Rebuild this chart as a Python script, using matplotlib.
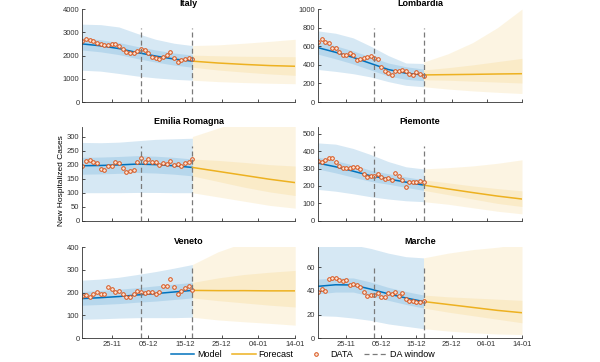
#!/usr/bin/env python3
"""Hospitalized cases per region: model fit, DA window and forecast."""

import matplotlib

matplotlib.use("Agg")
import matplotlib.dates as mdates
import matplotlib.pyplot as plt
import pandas as pd
from matplotlib.lines import Line2D

plt.rcParams.update({
    "font.family": ["Liberation Sans", "DejaVu Sans"],
    "font.size": 6,
    "axes.linewidth": 0.6,
    "xtick.direction": "in",
    "ytick.direction": "in",
    "xtick.major.size": 2.5,
    "ytick.major.size": 2.5,
    "xtick.major.width": 0.6,
    "ytick.major.width": 0.6,
    "xtick.labelsize": 5.5,
    "ytick.labelsize": 5.5,
})

# daily observations 17-11 .. 17-12
data_dates = pd.date_range("2020-11-17", "2020-12-17", freq="D")
# model nodes every 5 days inside the DA window, forecast nodes weekly
model_dates = pd.date_range("2020-11-17", "2020-12-17", freq="5D")
fc_dates = pd.date_range("2020-12-17", "2021-01-14", freq="7D")
da_start = pd.Timestamp("2020-12-03")
da_end = pd.Timestamp("2020-12-17")
x_ticks = pd.to_datetime(["2020-11-25", "2020-12-05", "2020-12-15",
                          "2020-12-25", "2021-01-04", "2021-01-14"])

regions = ["Italy", "Lombardia", "Emilia Romagna", "Piemonte", "Veneto", "Marche"]
y_max = [4000, 1000, 335, 540, 400, 77]
y_step = [1000, 200, 50, 100, 100, 20]

italy_data = [2643, 2700, 2657, 2628, 2527, 2484, 2455, 2440, 2484, 2513, 2412,
              2267, 2137, 2123, 2094, 2209, 2267, 2238, 2094, 1921, 1877, 1863,
              1949, 2007, 2137, 1906, 1718, 1791, 1848, 1877, 1848]
italy_mean = [2500, 2420, 2300, 2130, 1980, 1850, 1760]
italy_lo = [1370, 1330, 1230, 1120, 1040, 980, 940]
italy_hi = [3350, 3330, 3230, 2950, 2700, 2530, 2430]
italy_ilo = [2240, 2160, 2040, 1870, 1720, 1590, 1500]
italy_ihi = [2760, 2680, 2560, 2390, 2240, 2110, 2020]
italy_fc = [1760, 1680, 1620, 1570, 1540]
italy_fc_lo = [940, 880, 840, 810, 790]
italy_fc_hi = [2430, 2460, 2530, 2610, 2700]
italy_fc_ilo = [1500, 1380, 1290, 1210, 1150]
italy_fc_ihi = [2020, 1990, 1970, 1960, 1950]

lomb_data = [650, 675, 650, 632, 585, 578, 542, 505, 505, 523, 505, 451, 458,
             469, 480, 498, 469, 466, 372, 332, 314, 289, 332, 332, 343, 339,
             300, 296, 321, 307, 278]
lomb_mean = [585, 535, 480, 415, 350, 310, 292]
lomb_lo = [350, 330, 305, 270, 220, 180, 165]
lomb_hi = [765, 740, 690, 600, 500, 420, 415]
lomb_ilo = [515, 465, 410, 345, 280, 245, 230]
lomb_ihi = [655, 605, 550, 485, 420, 380, 355]
lomb_fc = [292, 295, 298, 302, 305]
lomb_fc_lo = [165, 140, 120, 105, 92]
lomb_fc_hi = [430, 520, 640, 800, 1000]
lomb_fc_ilo = [240, 235, 225, 215, 205]
lomb_fc_ihi = [345, 370, 400, 435, 470]

emil_data = [196, 214, 217, 208, 205, 185, 181, 195, 196, 211, 205, 189, 175,
             179, 181, 211, 223, 211, 219, 211, 208, 199, 205, 202, 212, 199,
             201, 196, 207, 208, 221]
emil_mean = [196, 197, 199, 202, 200, 196, 190]
emil_lo = [100, 100, 100, 101, 101, 100, 100]
emil_hi = [279, 278, 280, 285, 290, 292, 294]
emil_ilo = [166, 167, 169, 172, 170, 166, 160]
emil_ihi = [226, 227, 229, 232, 230, 226, 220]
emil_fc = [190, 176, 162, 148, 136]
emil_fc_lo = [100, 85, 70, 55, 45]
emil_fc_hi = [300, 330, 360, 380, 400]
emil_fc_ilo = [160, 140, 120, 103, 90]
emil_fc_ihi = [220, 215, 208, 200, 195]

piem_data = [344, 340, 350, 360, 360, 335, 317, 305, 302, 305, 311, 311, 298,
             267, 253, 259, 259, 267, 249, 241, 247, 237, 272, 259, 237, 195,
             220, 220, 224, 230, 220]
piem_mean = [331, 310, 285, 258, 240, 222, 205]
piem_lo = [180, 170, 155, 138, 125, 115, 110]
piem_hi = [447, 440, 415, 380, 340, 310, 298]
piem_ilo = [297, 275, 250, 226, 210, 192, 175]
piem_ihi = [365, 345, 320, 290, 270, 252, 235]
piem_fc = [205, 183, 162, 142, 125]
piem_fc_lo = [110, 95, 75, 55, 40]
piem_fc_hi = [298, 305, 315, 330, 350]
piem_fc_ilo = [175, 150, 125, 100, 82]
piem_fc_ihi = [235, 218, 200, 185, 172]

vene_data = [186, 189, 182, 196, 201, 193, 196, 226, 214, 201, 208, 196, 182,
             182, 193, 208, 204, 199, 204, 204, 193, 204, 229, 230, 260, 226,
             196, 208, 221, 230, 211]
vene_mean = [174, 178, 183, 190, 196, 203, 210]
vene_lo = [83, 85, 88, 90, 90, 90, 92]
vene_hi = [255, 260, 268, 280, 293, 308, 324]
vene_ilo = [145, 148, 152, 158, 163, 170, 177]
vene_ihi = [205, 210, 215, 222, 230, 238, 245]
vene_fc = [210, 209, 209, 208, 208]
vene_fc_lo = [92, 80, 72, 65, 57]
vene_fc_hi = [324, 380, 420, 450, 480]
vene_fc_ilo = [177, 165, 155, 145, 137]
vene_fc_ihi = [245, 265, 280, 290, 298]

marc_data = [38.9, 41.7, 39.7, 50.1, 51.0, 51.0, 49.3, 48.2, 49.3, 45.4, 45.9,
             45.4, 43.1, 38.9, 35.5, 36.6, 36.6, 38.0, 34.6, 34.6, 38.0, 37.5,
             38.9, 36.1, 38.0, 33.2, 31.8, 31.8, 30.4, 31.0, 31.3]
marc_mean = [43.9, 45.2, 45.0, 41.5, 37.5, 34.0, 31.0]
marc_lo = [19, 18.5, 17, 15, 12, 10, 8]
marc_hi = [80, 80, 79, 76, 72, 69, 68]
marc_ilo = [37.5, 39, 39, 35.5, 32, 28.5, 25.5]
marc_ihi = [50, 51, 51, 47.5, 43, 39.5, 36.5]
marc_fc = [31.0, 28.5, 26.0, 23.5, 21.5]
marc_fc_lo = [8, 6, 4.5, 3.5, 3]
marc_fc_hi = [68, 72, 75, 77, 80]
marc_fc_ilo = [25.5, 22, 19, 16, 13]
marc_fc_ihi = [36.5, 35, 34, 33, 32]

series = [
    (italy_data, italy_mean, italy_lo, italy_hi, italy_ilo, italy_ihi,
     italy_fc, italy_fc_lo, italy_fc_hi, italy_fc_ilo, italy_fc_ihi),
    (lomb_data, lomb_mean, lomb_lo, lomb_hi, lomb_ilo, lomb_ihi,
     lomb_fc, lomb_fc_lo, lomb_fc_hi, lomb_fc_ilo, lomb_fc_ihi),
    (emil_data, emil_mean, emil_lo, emil_hi, emil_ilo, emil_ihi,
     emil_fc, emil_fc_lo, emil_fc_hi, emil_fc_ilo, emil_fc_ihi),
    (piem_data, piem_mean, piem_lo, piem_hi, piem_ilo, piem_ihi,
     piem_fc, piem_fc_lo, piem_fc_hi, piem_fc_ilo, piem_fc_ihi),
    (vene_data, vene_mean, vene_lo, vene_hi, vene_ilo, vene_ihi,
     vene_fc, vene_fc_lo, vene_fc_hi, vene_fc_ilo, vene_fc_ihi),
    (marc_data, marc_mean, marc_lo, marc_hi, marc_ilo, marc_ihi,
     marc_fc, marc_fc_lo, marc_fc_hi, marc_fc_ilo, marc_fc_ihi),
]

BLUE = "#0072BD"
ORANGE = "#EDB120"
RED = "#D95319"
GREY = "#7a7a7a"
MFC = "#fbe6d8"

# axes boxes [left, bottom, width, height] in figure fraction
cols = [(0.137, 0.355), (0.530, 0.340)]
rows = [(0.718, 0.257), (0.390, 0.260), (0.066, 0.251)]


def draw_panel(ax, name, s, ymax, ystep, bottom_row):
    (obs, mean, lo, hi, ilo, ihi, fc, fc_lo, fc_hi, fc_ilo, fc_ihi) = s

    ax.fill_between(model_dates, lo, hi, color=BLUE, alpha=0.16, lw=0)
    ax.fill_between(model_dates, ilo, ihi, color=BLUE, alpha=0.14, lw=0)
    ax.fill_between(fc_dates, fc_lo, fc_hi, color=ORANGE, alpha=0.13, lw=0)
    ax.fill_between(fc_dates, fc_ilo, fc_ihi, color=ORANGE, alpha=0.13, lw=0)

    ax.plot(model_dates, mean, color=BLUE, lw=1.1)
    ax.plot(fc_dates, fc, color=ORANGE, lw=1.1)
    ax.plot(data_dates, obs, "o", ms=2.6, mew=0.7, mec=RED, mfc=MFC)

    for d in (da_start, da_end):
        ax.axvline(d, ymin=0, ymax=0.8, color=GREY, ls=(0, (4, 2.5)), lw=0.9)

    ax.set_xlim(pd.Timestamp("2020-11-17"), pd.Timestamp("2021-01-14"))
    ax.set_ylim(0, ymax)
    ax.set_yticks(range(0, int(ymax) + 1, ystep))
    ax.set_xticks(x_ticks)
    ax.xaxis.set_major_formatter(mdates.DateFormatter("%d-%m"))
    if not bottom_row:
        ax.tick_params(axis="x", labelbottom=False)
    ax.spines["top"].set_visible(False)
    ax.spines["right"].set_visible(False)
    for sp in ("left", "bottom"):
        ax.spines[sp].set_color("#333333")
    ax.tick_params(colors="#333333", pad=2)
    ax.set_title(name, fontsize=6.5, fontweight="bold", pad=2)


fig = plt.figure(figsize=(6.0, 3.62), dpi=100)
for i, name in enumerate(regions):
    r, c = divmod(i, 2)
    ax = fig.add_axes([cols[c][0], rows[r][0], cols[c][1], rows[r][1]])
    draw_panel(ax, name, series[i], y_max[i], y_step[i], r == 2)

fig.text(0.103, 0.5, "New Hospitalized Cases", rotation=90,
         ha="center", va="center", fontsize=6)

handles = [
    Line2D([], [], color=BLUE, lw=1.1),
    Line2D([], [], color=ORANGE, lw=1.1),
    Line2D([], [], ls="none", marker="o", ms=2.6, mew=0.7, mec=RED, mfc=MFC),
    Line2D([], [], color=GREY, ls=(0, (4, 2.5)), lw=0.9),
]
fig.legend(handles, ["Model", "Forecast", "DATA", "DA window"],
           loc="center", bbox_to_anchor=(0.505, 0.02), ncol=4, frameon=False,
           fontsize=6.5, handlelength=2.6, handletextpad=0.3, columnspacing=1.2)

fig.savefig("out.png", dpi=100)
